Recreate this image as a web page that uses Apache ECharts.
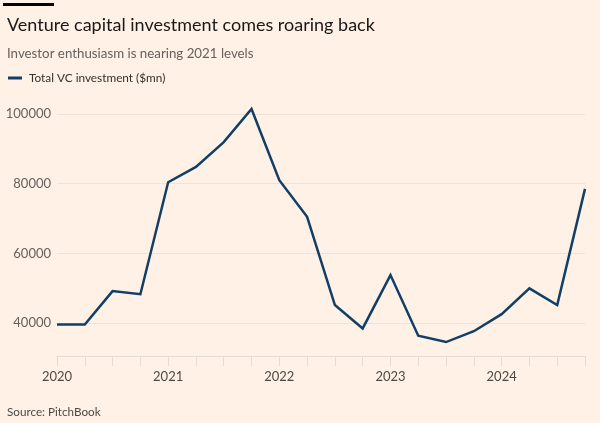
<!DOCTYPE html>
<html>
<head>
<meta charset="utf-8">
<script src="https://cdn.jsdelivr.net/npm/echarts@6/dist/echarts.min.js"></script>
<style>
html,body{margin:0;padding:0;background:#fff1e5;}
#chart{width:600px;height:423px;}
</style>
</head>
<body>
<div id="chart"></div>
<script>
const quarters = ['2020 Q1','2020 Q2','2020 Q3','2020 Q4','2021 Q1','2021 Q2','2021 Q3','2021 Q4','2022 Q1','2022 Q2','2022 Q3','2022 Q4','2023 Q1','2023 Q2','2023 Q3','2023 Q4','2024 Q1','2024 Q2','2024 Q3','2024 Q4'];
const vcInvestment = [39600, 39600, 49200, 48300, 80400, 84800, 91900, 101400, 81000, 70500, 45200, 38500, 53800, 36400, 34600, 37700, 42600, 50000, 45200, 78500];
const yTicks = [40000, 60000, 80000, 100000];
const seriesName = 'Total VC investment ($mn)';

const chart = echarts.init(document.getElementById('chart'), null, {renderer: 'canvas'});
const FONT = 'Lato, "Open Sans", sans-serif';
chart.setOption({
  backgroundColor: '#fff1e5',
  animation: false,
  title: [
    {text: 'Venture capital investment comes roaring back', left: 2, top: 11,
     textStyle: {fontFamily: FONT, fontSize: 18, fontWeight: 'normal', color: '#1a1817'}},
    {text: 'Investor enthusiasm is nearing 2021 levels', left: 2, top: 42,
     textStyle: {fontFamily: FONT, fontSize: 13.3, fontWeight: 'normal', color: '#66605c'}},
    {text: 'Source: PitchBook', left: 2, top: 401,
     textStyle: {fontFamily: FONT, fontSize: 11.7, fontWeight: 'normal', color: '#4d4845'}}
  ],
  graphic: [
    {type: 'rect', left: 3, top: 3, shape: {width: 51, height: 3}, style: {fill: '#000000'}}
  ],
  legend: {
    left: 3, top: 67, itemWidth: 14, itemHeight: 3, icon: 'rect',
    data: [seriesName],
    textStyle: {fontFamily: FONT, fontSize: 11.8, color: '#33302e', padding: [0, 0, 0, 2]}
  },
  grid: {left: 57, right: 15, top: 96.4, bottom: 67},
  xAxis: {
    type: 'category', data: quarters, boundaryGap: false,
    axisLine: {show: true, lineStyle: {color: '#e6dcd3', width: 1}},
    axisTick: {show: true, interval: 0, length: 10, lineStyle: {color: '#e6dcd3'}},
    axisLabel: {interval: 3, margin: 14, fontFamily: FONT, fontSize: 13, color: '#4d4845',
      formatter: v => v.slice(0, 4)},
    splitLine: {show: false}
  },
  yAxis: {
    type: 'value', min: 30600, max: 105000,
    axisLine: {show: false},
    axisTick: {show: false, customValues: yTicks},
    axisLabel: {customValues: yTicks, margin: 6, fontFamily: FONT, fontSize: 13, color: '#66605c',
      formatter: v => String(v)},
    splitLine: {show: true, lineStyle: {color: '#efe3d9', width: 1}}
  },
  series: [{
    name: seriesName, type: 'line', data: vcInvestment,
    showSymbol: false, symbol: 'none',
    lineStyle: {color: '#123f66', width: 2.5, join: 'miter'},
    itemStyle: {color: '#123f66'}
  }]
});
</script>
</body>
</html>
